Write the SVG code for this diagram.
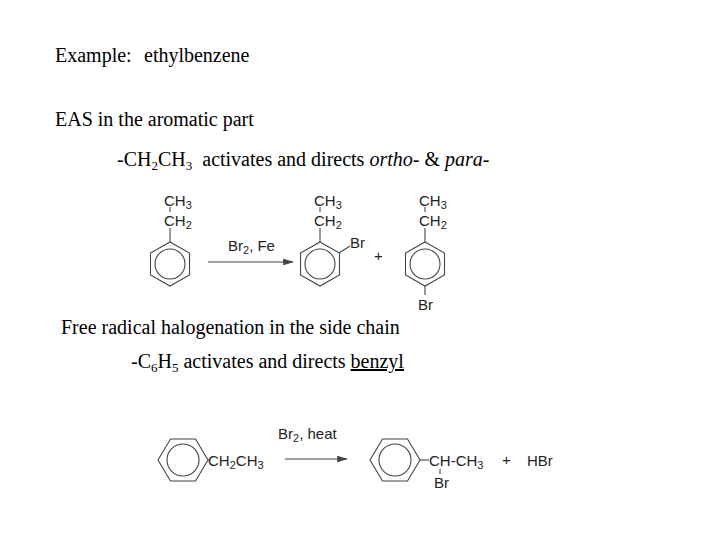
<svg xmlns="http://www.w3.org/2000/svg" width="720" height="540" viewBox="0 0 720 540">
<style>
.t{font-family:"Liberation Serif",serif;font-size:20px;fill:#000}
.c{font-family:"Liberation Sans",sans-serif;font-size:15px;fill:#222}
.b{stroke:#444;stroke-width:1.1;fill:none}
</style>
<defs>
<marker id="ah" markerWidth="10" markerHeight="6" refX="9" refY="3" orient="auto"><path d="M0,0L10,3L0,6Z" fill="#444"/></marker>
<g id="hv"><polygon class="b" points="0,-22 19.5,-11 19.5,11 0,22 -19.5,11 -19.5,-11"/><circle class="b" r="15"/></g>
<g id="hh"><polygon class="b" points="-25,0 -12.5,-21 12.5,-21 25,0 12.5,21 -12.5,21"/><circle class="b" r="16"/></g>
</defs>
<rect width="720" height="540" fill="#fff"/>
<text class="t" x="55" y="62">Example:</text>
<text class="t" x="144" y="62">ethylbenzene</text>
<text class="t" x="55" y="126">EAS in the aromatic part</text>
<text class="t" x="117" y="166">-CH<tspan font-size="13" dy="4">2</tspan><tspan dy="-4">CH</tspan><tspan font-size="13" dy="4">3</tspan><tspan dy="-4" xml:space="preserve">  activates and directs </tspan><tspan font-style="italic">ortho- </tspan>&amp; <tspan font-style="italic">para-</tspan></text>
<text class="t" x="61" y="334">Free radical halogenation in the side chain</text>
<text class="t" x="131" y="368">-C<tspan font-size="13" dy="4">6</tspan><tspan dy="-4">H</tspan><tspan font-size="13" dy="4">5</tspan><tspan dy="-4"> activates and directs </tspan><tspan text-decoration="underline">benzyl</tspan></text>
<g id="ethylbenzene1">
<use href="#hv" x="170" y="264"/>
<line class="b" x1="170" y1="242" x2="170" y2="228"/>
<text class="c" x="164" y="206">CH<tspan font-size="11" dy="3">3</tspan></text>
<line class="b" x1="170" y1="207" x2="170" y2="212"/>
<text class="c" x="164" y="226">CH<tspan font-size="11" dy="3">2</tspan></text>
</g>
<g id="orthoProduct">
<use href="#hv" x="320" y="264"/>
<line class="b" x1="320" y1="242" x2="320" y2="228"/>
<text class="c" x="314" y="206">CH<tspan font-size="11" dy="3">3</tspan></text>
<line class="b" x1="320" y1="207" x2="320" y2="212"/>
<text class="c" x="314" y="226">CH<tspan font-size="11" dy="3">2</tspan></text>
<line class="b" x1="339" y1="253" x2="350" y2="246"/>
<text class="c" x="350" y="248">Br</text>
</g>
<text class="c" x="374" y="261">+</text>
<g id="paraProduct">
<use href="#hv" x="425" y="264"/>
<line class="b" x1="425" y1="242" x2="425" y2="228"/>
<text class="c" x="419" y="206">CH<tspan font-size="11" dy="3">3</tspan></text>
<line class="b" x1="425" y1="207" x2="425" y2="212"/>
<text class="c" x="419" y="226">CH<tspan font-size="11" dy="3">2</tspan></text>
<line class="b" x1="425" y1="286" x2="425" y2="295"/>
<text class="c" x="418" y="310">Br</text>
</g>
<g id="ethylbenzene2">
<use href="#hh" x="183" y="460"/>
<line class="b" x1="208" y1="460" x2="209" y2="460"/>
<text class="c" x="208" y="466">CH<tspan font-size="11" dy="3">2</tspan><tspan dy="-3">CH</tspan><tspan font-size="11" dy="3">3</tspan></text>
</g>
<g id="benzylBromide">
<use href="#hh" x="395" y="460"/>
<line class="b" x1="420" y1="460" x2="429" y2="460"/>
<text class="c" x="429" y="466">CH-CH<tspan font-size="11" dy="3">3</tspan></text>
<line class="b" x1="440" y1="469" x2="440" y2="474"/>
<text class="c" x="434" y="488">Br</text>
</g>
<text class="c" x="502" y="465">+</text>
<text class="c" x="527" y="466">HBr</text>
<g id="connectors">
<line class="b" x1="208" y1="262" x2="293" y2="262" marker-end="url(#ah)"/>
<text class="c" x="228" y="251">Br<tspan font-size="11" dy="3">2</tspan><tspan dy="-3">, Fe</tspan></text>
<line class="b" x1="285" y1="459" x2="347" y2="459" marker-end="url(#ah)"/>
<text class="c" x="278" y="439">Br<tspan font-size="11" dy="3">2</tspan><tspan dy="-3">, heat</tspan></text>
</g>
</svg>
